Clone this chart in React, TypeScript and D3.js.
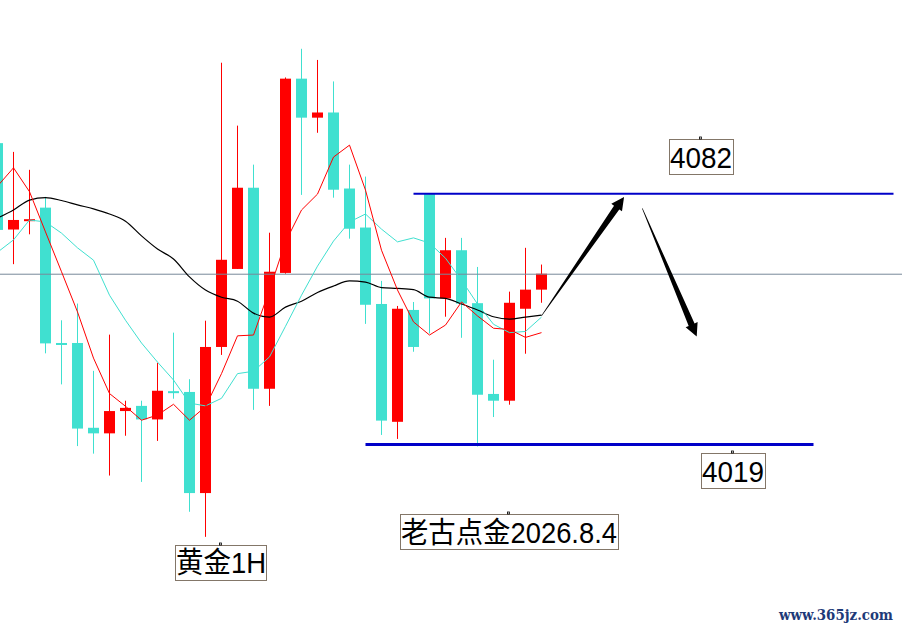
import { useEffect, useRef } from "react"
import * as d3 from "d3"

// 黄金 1H 蜡烛 (红 = 阳, 青 = 阴)
const opens = [
  4094.7, 4073.0, 4075.2, 4078.5, 4044.5, 4044.5, 4023.2, 4021.8, 4027.4, 4028.7,
  4025.3, 4032.4, 4032.2, 4006.8, 4043.5, 4063.1, 4083.5, 4033.0, 4062.1, 4110.9,
  4101.1, 4102.4, 4083.3, 4073.5, 4054.3, 4024.7, 4052.8, 4081.9, 4055.7, 4067.8,
  4054.5, 4031.7, 4030.0, 4053.1, 4057.9,
]
const highs = [
  4096.0, 4092.5, 4088.0, 4081.2, 4050.2, 4054.4, 4037.5, 4046.6, 4030.0, 4030.0,
  4039.5, 4047.1, 4035.4, 4050.1, 4114.9, 4099.1, 4089.3, 4072.2, 4111.2, 4118.4,
  4115.6, 4110.2, 4089.3, 4086.3, 4060.1, 4053.8, 4054.8, 4082.0, 4070.9, 4070.9,
  4063.6, 4040.3, 4057.4, 4068.4, 4064.2,
]
const lows = [
  4071.4, 4064.3, 4071.8, 4041.9, 4034.1, 4018.6, 4016.7, 4011.2, 4021.2, 4009.6,
  4019.9, 4030.5, 4002.1, 3995.8, 4041.5, 4063.1, 4027.7, 4028.7, 4061.9, 4081.7,
  4097.3, 4081.0, 4070.7, 4049.3, 4021.4, 4020.4, 4042.3, 4046.9, 4051.1, 4045.8,
  4018.5, 4025.9, 4029.0, 4041.8, 4054.6,
]
const closes = [
  4072.9, 4075.4, 4075.6, 4044.4, 4044.3, 4023.0, 4021.8, 4027.4, 4028.2, 4025.3,
  4032.5, 4032.1, 4006.8, 4043.5, 4065.4, 4083.5, 4033.0, 4062.4, 4110.9, 4101.1,
  4102.4, 4083.0, 4073.2, 4054.1, 4025.0, 4053.1, 4043.5, 4055.7, 4067.8, 4054.4,
  4031.5, 4030.0, 4054.6, 4057.9, 4061.9,
]

// 均线
const maFast = [
  4083.9, 4088.5, 4082.5, 4072.4, 4062.4, 4052.3, 4040.7, 4031.8, 4028.6, 4025.1,
  4026.4, 4029.1, 4025.1, 4028.5, 4036.8, 4046.3, 4046.5, 4057.8, 4069.9, 4077.9,
  4081.9, 4091.2, 4094.2, 4082.9, 4067.8, 4057.8, 4049.8, 4046.5, 4049.0, 4054.8,
  4051.3, 4048.2, 4047.9, 4045.9, 4047.1,
]
const maMid = [
  4067.3, 4070.4, 4075.4, 4074.9, 4072.1, 4068.4, 4065.3, 4056.5, 4050.2, 4044.5,
  4039.7, 4035.2, 4029.4, 4028.7, 4030.6, 4036.8, 4037.4, 4041.0, 4048.7, 4056.5,
  4063.8, 4070.1, 4074.9, 4076.9, 4073.1, 4069.9, 4070.9, 4069.6, 4065.8, 4060.3,
  4054.3, 4049.2, 4047.1, 4047.4, 4051.0,
]
const maSlow = [
  4075.9, 4077.9, 4080.4, 4081.0, 4080.3, 4079.2, 4078.2, 4076.9, 4075.1, 4071.4,
  4068.1, 4065.6, 4061.1, 4057.8, 4056.0, 4055.0, 4052.0, 4051.0, 4053.5, 4055.0,
  4057.2, 4058.8, 4060.1, 4059.8, 4058.4, 4058.2, 4057.9, 4056.0, 4055.7, 4054.3,
  4052.8, 4051.1, 4050.5, 4051.0, 4051.5,
]

const lastPrice = 4061.9

// 压力 / 支撑
const levelPrices = [4082, 4019]
const levelFrom = [26, 23]
const levelTo = [56, 51]

// 箭头 [起点序号, 起点价, 终点序号, 终点价]
const arrows = [
  [34, 4051.3, 39.16, 4081.2],
  [40.3, 4078.3, 43.7, 4046.1],
]

const UP = "#ff0000"
const DOWN = "#40e0d0"
const FONT = "'Liberation Sans', Arial, 'Noto Sans CJK SC', sans-serif"

function arrowPath(x0: number, y0: number, x1: number, y1: number) {
  const dx = x1 - x0
  const dy = y1 - y0
  const len = Math.hypot(dx, dy)
  const ux = dx / len
  const uy = dy / len
  const nx = -uy
  const ny = ux
  const hl = 13
  const hw = 6.5
  const sw = 3.2
  const hx = x1 - ux * hl
  const hy = y1 - uy * hl
  return `M${x0 + nx * 0.3},${y0 + ny * 0.3} L${hx + nx * sw},${hy + ny * sw} L${hx + nx * hw},${hy + ny * hw} L${x1},${y1} L${hx - nx * hw},${hy - ny * hw} L${hx - nx * sw},${hy - ny * sw} L${x0 - nx * 0.3},${y0 - ny * 0.3} Z`
}

export default function App() {
  const svgRef = useRef<SVGSVGElement>(null)

  useEffect(() => {
    if (!svgRef.current) return
    const svg = d3.select(svgRef.current)
    svg.selectAll("*").remove()

    const x = d3.scaleLinear().domain([0, 34]).range([-2.5, 541.5])
    const y = d3.scaleLinear().domain([4019, 4082]).range([444.5, 193.7])
    const bodyW = 11

    const idx = d3.range(opens.length)
    const g = svg.append("g")

    // 蜡烛
    const candle = g.selectAll(".candle").data(idx).enter().append("g")
    candle
      .append("line")
      .attr("x1", (i) => x(i))
      .attr("x2", (i) => x(i))
      .attr("y1", (i) => y(highs[i]))
      .attr("y2", (i) => y(lows[i]))
      .attr("stroke", (i) => (closes[i] >= opens[i] ? UP : DOWN))
      .attr("stroke-width", 1)
    candle
      .append("rect")
      .attr("x", (i) => x(i) - bodyW / 2)
      .attr("width", bodyW)
      .attr("y", (i) => y(Math.max(opens[i], closes[i])))
      .attr("height", (i) => Math.max(2, Math.abs(y(opens[i]) - y(closes[i]))))
      .attr("fill", (i) => (closes[i] >= opens[i] ? UP : DOWN))

    // 现价线
    g.append("line")
      .attr("x1", 0)
      .attr("x2", 902)
      .attr("y1", y(lastPrice) + 0.5)
      .attr("y2", y(lastPrice) + 0.5)
      .attr("stroke", "#778899")
      .attr("stroke-width", 1)

    // 均线
    const lineOf = (vals: number[], curve: d3.CurveFactory) =>
      d3
        .line<number>()
        .x((_, i) => x(i))
        .y((v) => y(v))
        .curve(curve)(vals)

    g.append("path").attr("d", lineOf(maSlow, d3.curveMonotoneX)).attr("fill", "none").attr("stroke", "#000").attr("stroke-width", 1.2)
    g.append("path").attr("d", lineOf(maMid, d3.curveLinear)).attr("fill", "none").attr("stroke", DOWN).attr("stroke-width", 1)
    g.append("path").attr("d", lineOf(maFast, d3.curveLinear)).attr("fill", "none").attr("stroke", UP).attr("stroke-width", 1)

    // 水平线
    levelPrices.forEach((p, k) => {
      g.append("line")
        .attr("x1", x(levelFrom[k]))
        .attr("x2", x(levelTo[k]))
        .attr("y1", y(p))
        .attr("y2", y(p))
        .attr("stroke", "#0000c8")
        .attr("stroke-width", k === 0 ? 2 : 3)
    })

    // 箭头
    arrows.forEach((a) => {
      g.append("path").attr("d", arrowPath(x(a[0]), y(a[1]), x(a[2]), y(a[3]))).attr("fill", "#000")
    })

    // 文字框
    const labels = [
      { text: "4082", bx: 669.5, by: 139.5, bw: 64, bh: 35, tx: 670, ty: 167.5, tl: 62, mark: 699.5 },
      { text: "4019", bx: 701.5, by: 453.5, bw: 64, bh: 35, tx: 702, ty: 481.5, tl: 62, mark: 731.5 },
      { text: "黄金1H", bx: 175.5, by: 545.5, bw: 91, bh: 35, tx: 176, ty: 573, tl: 90, mark: 219.5 },
      { text: "老古点金2026.8.4", bx: 400.5, by: 514.5, bw: 218, bh: 35, tx: 401, ty: 542.5, tl: 216, mark: 507.5 },
    ]
    labels.forEach((l) => {
      g.append("rect")
        .attr("x", l.bx)
        .attr("y", l.by)
        .attr("width", l.bw)
        .attr("height", l.bh)
        .attr("fill", "none")
        .attr("stroke", "#837668")
        .attr("stroke-width", 1)
      g.append("rect")
        .attr("x", l.mark)
        .attr("y", l.by - 2.5)
        .attr("width", 2)
        .attr("height", 2)
        .attr("fill", "none")
        .attr("stroke", "#000")
        .attr("stroke-width", 0.8)
      g.append("text")
        .attr("x", l.tx)
        .attr("y", l.ty)
        .attr("textLength", l.tl)
        .attr("lengthAdjust", "spacingAndGlyphs")
        .style("font-family", FONT)
        .style("font-size", "29px")
        .style("fill", "#000")
        .text(l.text)
    })

    // 水印
    g.append("text")
      .attr("x", 779)
      .attr("y", 619.5)
      .attr("textLength", 114)
      .attr("lengthAdjust", "spacingAndGlyphs")
      .style("font-family", "'DejaVu Serif', serif")
      .style("font-size", "14px")
      .style("font-weight", "bold")
      .style("fill", "#1e3a78")
      .text("www.365jz.com")
  }, [])

  return (
    <div style={{ position: "absolute", left: 0, top: 0 }}>
      <svg ref={svgRef} width={902} height={630} style={{ display: "block", background: "#fff" }} />
    </div>
  )
}
